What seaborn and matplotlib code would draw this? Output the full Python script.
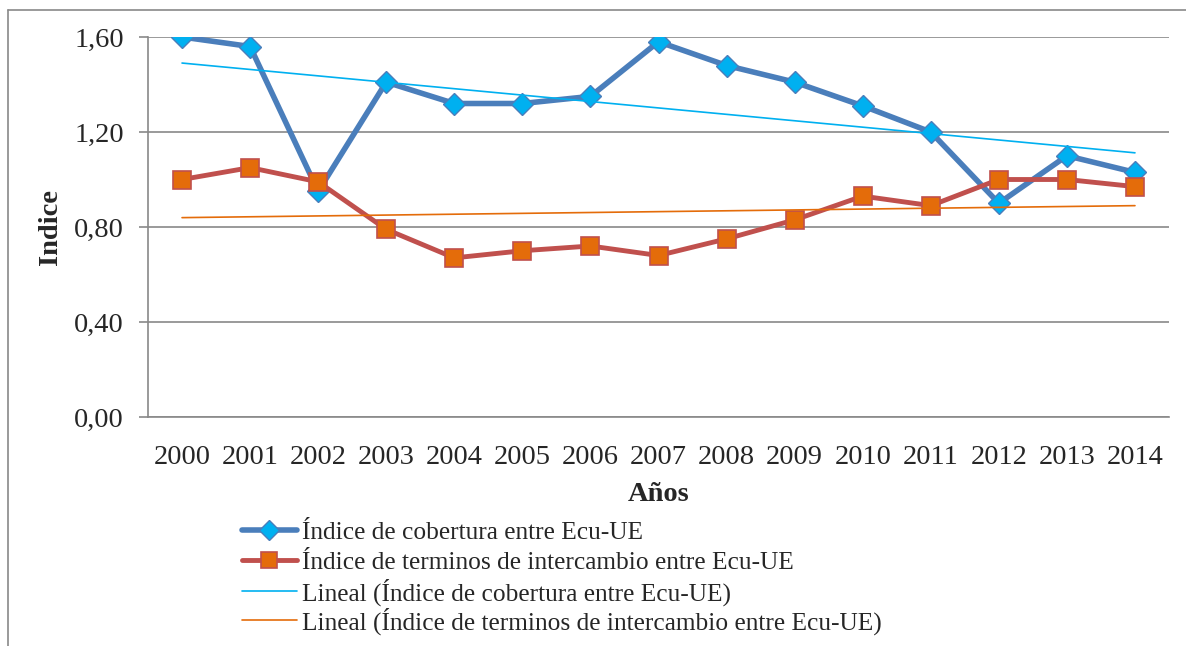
import numpy as np
import pandas as pd
import matplotlib
matplotlib.use("Agg")
import matplotlib.pyplot as plt
import seaborn as sns
from matplotlib.lines import Line2D

# values
years = ['2000', '2001', '2002', '2003', '2004', '2005', '2006', '2007',
         '2008', '2009', '2010', '2011', '2012', '2013', '2014']
cobertura = [1.60, 1.56, 0.95, 1.41, 1.32, 1.32, 1.35, 1.58,
             1.48, 1.41, 1.31, 1.20, 0.90, 1.10, 1.03]
terminos = [1.00, 1.05, 0.99, 0.79, 0.67, 0.70, 0.72, 0.68,
            0.75, 0.83, 0.93, 0.89, 1.00, 1.00, 0.97]
yticks = [0.0, 0.4, 0.8, 1.2, 1.6]
ytick_labels = ['0,00', '0,40', '0,80', '1,20', '1,60']

lab_cob = 'Índice de cobertura entre Ecu-UE'
lab_ter = 'Índice de terminos de intercambio entre Ecu-UE'
lab_tcob = 'Lineal (Índice de cobertura entre Ecu-UE)'
lab_tter = 'Lineal (Índice de terminos de intercambio entre Ecu-UE)'

sns.set_style('white')
plt.rcParams['font.family'] = ['Liberation Serif', 'DejaVu Serif']

df = pd.DataFrame({'pos': np.arange(len(years)), 'cob': cobertura, 'ter': terminos})

fig = plt.figure(figsize=(11.86, 6.46), dpi=100)
ax = fig.add_axes([148 / 1186, 1 - 417 / 646, (1169 - 148) / 1186, (417 - 37) / 646])

grid_c = '#898989'

sns.lineplot(data=df, x='pos', y='cob', ax=ax, color='#4A7EBB', linewidth=4,
             marker='D', markersize=11, markerfacecolor='#00B0F0',
             markeredgecolor='#4A7EBB', markeredgewidth=1, label=lab_cob, zorder=3)
sns.lineplot(data=df, x='pos', y='ter', ax=ax, color='#C0504D', linewidth=3.5,
             marker='s', markersize=13.5, markerfacecolor='#E46C0A',
             markeredgecolor='#C0504D', markeredgewidth=1.2, label=lab_ter, zorder=4)
# linear trend lines (Excel "Lineal")
sns.regplot(data=df, x='pos', y='cob', ax=ax, scatter=False, ci=None, truncate=True,
            color='#00B0F0', line_kws={'linewidth': 1.2, 'zorder': 5}, label=lab_tcob)
sns.regplot(data=df, x='pos', y='ter', ax=ax, scatter=False, ci=None, truncate=True,
            color='#E46C0A', line_kws={'linewidth': 1.2, 'zorder': 5}, label=lab_tter)

ax.set_xlim(-0.5, len(years) - 0.5)
ax.set_ylim(0, 1.6)
ax.set_xticks(df['pos'])
ax.set_xticklabels(years, fontsize=20.5)
ax.set_yticks(yticks)
ax.set_yticklabels(ytick_labels, fontsize=20.5)
ax.tick_params(axis='x', length=0, pad=20)
ax.tick_params(axis='y', length=6.5, width=1.2, color=grid_c, pad=11, left=True)
ax.yaxis.grid(True, color=grid_c, linewidth=1.2)
ax.set_axisbelow(True)
for s in ['top', 'right']:
    ax.spines[s].set_visible(False)
for s in ['left', 'bottom']:
    ax.spines[s].set_color(grid_c)
    ax.spines[s].set_linewidth(1.2)

ax.set_xlabel('Años', fontsize=20.5, fontweight='bold', labelpad=9)
ax.set_ylabel('Indice', fontsize=20.5, fontweight='bold', labelpad=8)

handles, labels = ax.get_legend_handles_labels()
if ax.get_legend() is not None:
    ax.get_legend().remove()

# one legend row per entry so the rows are evenly spaced like the reference
row_y = [533, 563, 592, 621]
legend_ms = [10.5, 12, None, None]
for h, l, y, ms in zip(handles, labels, row_y, legend_ms):
    leg = fig.legend([h], [l], loc='center left', bbox_to_anchor=(242 / 1186, 1 - y / 646),
                     frameon=False, fontsize=18.3, handlelength=2.15, handletextpad=0.2,
                     borderpad=0, borderaxespad=0, numpoints=1)
    if ms is not None:
        leg.legend_handles[0].set_markersize(ms)

# outer chart frame (left and top edges visible in the reference)
fig.add_artist(Line2D([8 / 1186, 8 / 1186], [0, 1 - 10 / 646], transform=fig.transFigure,
                      color=grid_c, linewidth=1.2))
fig.add_artist(Line2D([8 / 1186, 1], [1 - 10 / 646, 1 - 10 / 646], transform=fig.transFigure,
                      color=grid_c, linewidth=1.2))

fig.savefig('out.png', dpi=100)
